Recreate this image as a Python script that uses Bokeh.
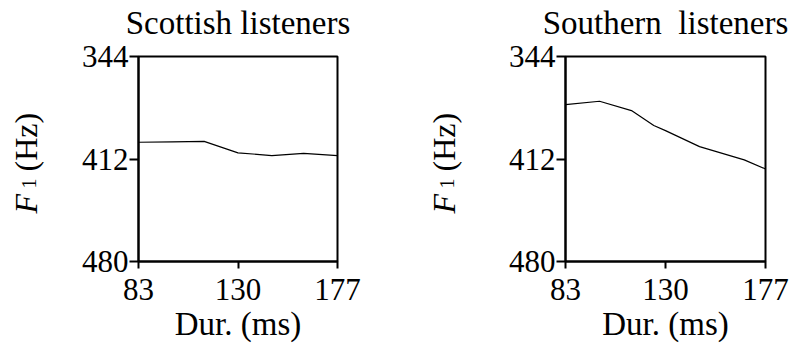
from bokeh.plotting import figure
from bokeh.models import Range1d, FixedTicker, Label, Title
from bokeh.layouts import row
from bokeh.embed import file_html
from bokeh.resources import INLINE
import math

# ---- data ----
panel_titles = ["Scottish listeners", "Southern\u00a0 listeners"]
x_ticks = [83, 130, 177]
y_ticks = [344, 412, 480]
x_label = "Dur. (ms)"

scottish_dur = [83, 99, 114, 130, 146, 161, 177]
scottish_f1 = [400.9, 400.6, 400.3, 407.9, 409.7, 408.3, 409.8]

southern_dur = [83, 99, 114, 124.5, 130, 146, 167, 177]
southern_f1 = [375.9, 373.7, 379.9, 389.8, 393.2, 403.8, 412.6, 418.6]

FONT = "Liberation Serif"
FH = 205      # frame height px
TOP = 56
H = 344


def make_panel(title, xs, ys, border_left, fw, width, label_sides, bx):
    border_right = width - border_left - fw
    p = figure(width=width, height=H,
               x_range=Range1d(x_ticks[0], x_ticks[-1]),
               y_range=Range1d(y_ticks[-1], y_ticks[0]),
               output_backend="svg", toolbar_location=None,
               min_border_left=border_left, min_border_right=border_right,
               min_border_top=TOP, min_border_bottom=H - TOP - FH)
    p.xgrid.visible = False
    p.ygrid.visible = False
    p.outline_line_color = "black"
    p.outline_line_width = 2
    p.background_fill_color = None
    p.border_fill_color = None

    for ax in (p.xaxis[0], p.yaxis[0]):
        ax.axis_line_color = "black"
        ax.axis_line_width = 2
        ax.major_tick_line_color = "black"
        ax.major_tick_line_width = 2
        ax.minor_tick_line_color = None
        ax.major_tick_in = 0
        ax.major_label_text_font = FONT
        ax.major_label_text_font_size = "31px"
        ax.major_label_text_color = "black"
    p.xaxis.ticker = FixedTicker(ticks=x_ticks)
    p.yaxis.ticker = FixedTicker(ticks=y_ticks)
    p.xaxis.major_tick_out = 7
    p.yaxis.major_tick_out = 9
    p.xaxis.major_label_standoff = 10
    p.yaxis.major_label_standoff = 1

    p.line(xs, ys, line_color="black", line_width=1.2)

    xr0, xr1 = x_ticks[0], x_ticks[-1]
    yr0, yr1 = y_ticks[0], y_ticks[-1]
    sx = (xr1 - xr0) / fw
    sy = (yr1 - yr0) / FH

    def dx(px):   # px offset from frame left -> data x
        return xr0 + px * sx

    def dy(py):   # px offset from frame top (down positive) -> data y
        return yr0 + py * sy

    # panel title
    p.add_layout(Label(x=dx(fw / 2), y=dy(-34), text=title,
                       text_font=FONT, text_font_size="33px",
                       text_align="center", text_baseline="alphabetic",
                       text_color="black"), "above")
    # x axis label
    p.add_layout(Title(text=x_label, align="center", text_font=FONT,
                       text_font_size="33px", text_font_style="normal",
                       text_color="black", standoff=2), "below")

    # y label: F_1 (Hz), rotated
    p.add_layout(Label(x=dx(bx), y=dy(157), text="F", angle=math.pi / 2,
                       text_font=FONT, text_font_size="32px",
                       text_font_style="italic",
                       text_align="left", text_baseline="alphabetic",
                       text_color="black"), label_sides[0])
    p.add_layout(Label(x=dx(bx + 3), y=dy(132), text="1", angle=math.pi / 2,
                       text_font=FONT, text_font_size="20px",
                       text_align="left", text_baseline="alphabetic",
                       text_color="black"), label_sides[1])
    p.add_layout(Label(x=dx(bx), y=dy(115), text="(Hz)", angle=math.pi / 2,
                       text_font=FONT, text_font_size="32px",
                       text_align="left", text_baseline="alphabetic",
                       text_color="black"), label_sides[2])
    return p


p1 = make_panel(panel_titles[0], scottish_dur, scottish_f1, 138, 199, 401,
                ["left", "right", "right"], -113)
p2 = make_panel(panel_titles[1], southern_dur, southern_f1, 164, 200, 389,
                ["left", "left", "left"], -122)

layout = row(p1, p2, spacing=0)
open("out.html", "w").write(file_html(layout, INLINE))
